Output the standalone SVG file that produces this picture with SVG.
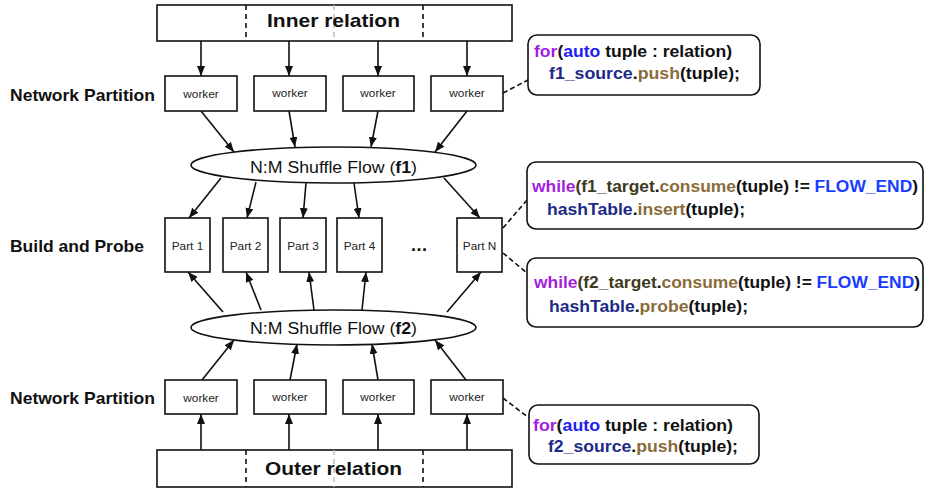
<svg xmlns="http://www.w3.org/2000/svg" width="928" height="491" viewBox="0 0 928 491">
  <style>
    text { font-family: "Liberation Sans", Arial, Helvetica, sans-serif; fill: #111; }
    .box { fill: #fff; stroke: #111; stroke-width: 1.6; }
    .code { fill: #fff; stroke: #111; stroke-width: 1.6; }
    .lbl { font-weight: bold; font-size: 16.5px; }
    .rel { font-weight: bold; font-size: 19px; }
    .small { font-size: 11.8px; fill: #222; }
    .flow { font-size: 16px; }
    .cd { font-weight: bold; font-size: 16px; }
    .kw { fill: #a21ee0; }
    .ty { fill: #2020f0; }
    .var { fill: #1d2a86; }
    .fn { fill: #8a6c3a; }
    .en { fill: #1a3cff; }
    .tg { fill: #3e3a22; }
    .edge { stroke: #111; stroke-width: 1.6; fill: none; }
    .dash { stroke: #111; stroke-width: 1.6; fill: none; stroke-dasharray: 5 3; }
    .div { stroke: #111; stroke-width: 1.6; stroke-dasharray: 5 4; }
    .divl { stroke: #bbb; stroke-width: 1.4; stroke-dasharray: 5 4; }
  </style>
  <defs>
    <marker id="ah" viewBox="0 0 10 8" refX="10" refY="4" markerWidth="10" markerHeight="8" markerUnits="userSpaceOnUse" orient="auto">
      <path d="M0,0 L10,4 L0,8 Z" fill="#111"/>
    </marker>
  </defs>

  <rect width="928" height="491" fill="#fff"/>

  <!-- row labels -->
  <text class="lbl" x="10" y="101" textLength="145" lengthAdjust="spacingAndGlyphs">Network Partition</text>
  <text class="lbl" x="10" y="252" textLength="134" lengthAdjust="spacingAndGlyphs">Build and Probe</text>
  <text class="lbl" x="10" y="404" textLength="145" lengthAdjust="spacingAndGlyphs">Network Partition</text>

  <!-- connectors -->
  <g id="connectors">
    <!-- inner relation to workers -->
    <line class="edge" x1="201" y1="41" x2="201" y2="76" marker-end="url(#ah)"/>
    <line class="edge" x1="289" y1="41" x2="289" y2="76" marker-end="url(#ah)"/>
    <line class="edge" x1="378" y1="41" x2="378" y2="76" marker-end="url(#ah)"/>
    <line class="edge" x1="467" y1="41" x2="467" y2="76" marker-end="url(#ah)"/>
    <!-- workers to flow f1 -->
    <line class="edge" x1="201" y1="111" x2="234" y2="152" marker-end="url(#ah)"/>
    <line class="edge" x1="289" y1="111" x2="295" y2="147" marker-end="url(#ah)"/>
    <line class="edge" x1="378" y1="111" x2="371" y2="147" marker-end="url(#ah)"/>
    <line class="edge" x1="467" y1="111" x2="435" y2="152" marker-end="url(#ah)"/>
    <!-- flow f1 to partitions -->
    <line class="edge" x1="221" y1="178" x2="189" y2="218" marker-end="url(#ah)"/>
    <line class="edge" x1="256" y1="182" x2="247" y2="218" marker-end="url(#ah)"/>
    <line class="edge" x1="306" y1="183" x2="303" y2="218" marker-end="url(#ah)"/>
    <line class="edge" x1="354" y1="183" x2="359" y2="218" marker-end="url(#ah)"/>
    <line class="edge" x1="444" y1="178" x2="480" y2="218" marker-end="url(#ah)"/>
    <!-- flow f2 to partitions -->
    <line class="edge" x1="223" y1="312" x2="188" y2="272" marker-end="url(#ah)"/>
    <line class="edge" x1="261" y1="310" x2="246" y2="272" marker-end="url(#ah)"/>
    <line class="edge" x1="314" y1="310" x2="309" y2="272" marker-end="url(#ah)"/>
    <line class="edge" x1="362" y1="310" x2="366" y2="272" marker-end="url(#ah)"/>
    <line class="edge" x1="447" y1="312" x2="481" y2="272" marker-end="url(#ah)"/>
    <!-- workers to flow f2 -->
    <line class="edge" x1="202" y1="380" x2="234" y2="340" marker-end="url(#ah)"/>
    <line class="edge" x1="290" y1="380" x2="297" y2="344" marker-end="url(#ah)"/>
    <line class="edge" x1="378" y1="380" x2="372" y2="344" marker-end="url(#ah)"/>
    <line class="edge" x1="466" y1="380" x2="435" y2="340" marker-end="url(#ah)"/>
    <!-- outer relation to workers -->
    <line class="edge" x1="201" y1="450" x2="201" y2="414" marker-end="url(#ah)"/>
    <line class="edge" x1="289" y1="450" x2="289" y2="414" marker-end="url(#ah)"/>
    <line class="edge" x1="378" y1="450" x2="378" y2="414" marker-end="url(#ah)"/>
    <line class="edge" x1="467" y1="450" x2="467" y2="414" marker-end="url(#ah)"/>
    <!-- code annotations -->
    <line class="dash" x1="503" y1="93" x2="528" y2="80"/>
    <line class="dash" x1="503" y1="228" x2="527" y2="200"/>
    <line class="dash" x1="503" y1="253" x2="527" y2="273"/>
    <line class="dash" x1="503" y1="398" x2="529" y2="418"/>
  </g>

  <!-- inner relation -->
  <g id="inner-relation">
    <rect class="box" x="157" y="5" width="355" height="36"/>
    <line class="div" x1="246" y1="5" x2="246" y2="41"/>
    <line class="divl" x1="334" y1="5" x2="334" y2="41"/>
    <line class="div" x1="423" y1="5" x2="423" y2="41"/>
    <text class="rel" x="267" y="27" textLength="133" lengthAdjust="spacingAndGlyphs">Inner relation</text>
  </g>

  <!-- top workers -->
  <g id="worker-t1"><rect class="box" x="165" y="76" width="72" height="35"/><text class="small" x="201" y="98" text-anchor="middle">worker</text></g>
  <g id="worker-t2"><rect class="box" x="254" y="76" width="72" height="35"/><text class="small" x="290" y="97" text-anchor="middle">worker</text></g>
  <g id="worker-t3"><rect class="box" x="343" y="76" width="71" height="35"/><text class="small" x="378" y="97" text-anchor="middle">worker</text></g>
  <g id="worker-t4"><rect class="box" x="431" y="76" width="72" height="35"/><text class="small" x="467" y="97" text-anchor="middle">worker</text></g>

  <!-- shuffle flow f1 -->
  <g id="flow-f1">
    <ellipse class="box" cx="333.5" cy="165" rx="142.5" ry="18"/>
    <text class="flow" x="250" y="173" textLength="167" lengthAdjust="spacingAndGlyphs">N:M Shuffle Flow (<tspan font-weight="bold">f1</tspan>)</text>
  </g>

  <!-- partitions -->
  <g id="part-1"><rect class="box" x="165" y="218" width="45" height="54"/><text class="small" x="187.5" y="250" text-anchor="middle">Part 1</text></g>
  <g id="part-2"><rect class="box" x="223" y="218" width="45" height="54"/><text class="small" x="245.5" y="250" text-anchor="middle">Part 2</text></g>
  <g id="part-3"><rect class="box" x="280" y="218" width="46" height="54"/><text class="small" x="303" y="250" text-anchor="middle">Part 3</text></g>
  <g id="part-4"><rect class="box" x="337" y="218" width="45" height="54"/><text class="small" x="359.5" y="250" text-anchor="middle">Part 4</text></g>
  <g id="ellipsis"><text x="411" y="251" font-weight="bold" font-size="18" textLength="16" lengthAdjust="spacing">...</text></g>
  <g id="part-n"><rect class="box" x="457" y="218" width="45" height="54"/><text class="small" x="479.5" y="250" text-anchor="middle">Part N</text></g>

  <!-- shuffle flow f2 -->
  <g id="flow-f2">
    <ellipse class="box" cx="333.5" cy="327.5" rx="142.5" ry="17.5"/>
    <text class="flow" x="250" y="334" textLength="167" lengthAdjust="spacingAndGlyphs">N:M Shuffle Flow (<tspan font-weight="bold">f2</tspan>)</text>
  </g>

  <!-- bottom workers -->
  <g id="worker-b1"><rect class="box" x="165" y="380" width="72" height="34"/><text class="small" x="201" y="402" text-anchor="middle">worker</text></g>
  <g id="worker-b2"><rect class="box" x="254" y="380" width="72" height="34"/><text class="small" x="290" y="401" text-anchor="middle">worker</text></g>
  <g id="worker-b3"><rect class="box" x="343" y="380" width="71" height="34"/><text class="small" x="378" y="401" text-anchor="middle">worker</text></g>
  <g id="worker-b4"><rect class="box" x="431" y="380" width="72" height="34"/><text class="small" x="467" y="401" text-anchor="middle">worker</text></g>

  <!-- outer relation -->
  <g id="outer-relation">
    <rect class="box" x="157" y="450" width="355" height="37"/>
    <line class="div" x1="246" y1="450" x2="246" y2="487"/>
    <line class="divl" x1="334" y1="450" x2="334" y2="487"/>
    <line class="div" x1="423" y1="450" x2="423" y2="487"/>
    <text class="rel" x="265" y="475" textLength="137" lengthAdjust="spacingAndGlyphs">Outer relation</text>
  </g>

  <!-- code: push inner tuples -->
  <g id="code-f1-source">
    <rect class="code" x="528" y="35" width="232" height="60" rx="9"/>
    <text class="cd" x="534" y="57" textLength="198" lengthAdjust="spacingAndGlyphs"><tspan class="kw">for</tspan>(<tspan class="ty">auto</tspan> tuple : relation)</text>
    <text class="cd" x="549" y="79" textLength="191" lengthAdjust="spacingAndGlyphs"><tspan class="var">f1_source</tspan>.<tspan class="fn">push</tspan>(tuple);</text>
  </g>

  <!-- code: build -->
  <g id="code-build">
    <rect class="code" x="527" y="162" width="396" height="67" rx="9"/>
    <text class="cd" x="532" y="192" textLength="386" lengthAdjust="spacingAndGlyphs"><tspan class="kw">while</tspan><tspan class="tg">(f1_target</tspan>.<tspan class="fn">consume</tspan>(tuple) != <tspan class="en">FLOW_END</tspan>)</text>
    <text class="cd" x="547" y="215" textLength="198" lengthAdjust="spacingAndGlyphs"><tspan class="var">hashTable</tspan>.<tspan class="fn">insert</tspan>(tuple);</text>
  </g>

  <!-- code: probe -->
  <g id="code-probe">
    <rect class="code" x="527" y="258" width="396" height="69" rx="9"/>
    <text class="cd" x="534" y="288" textLength="386" lengthAdjust="spacingAndGlyphs"><tspan class="kw">while</tspan><tspan class="tg">(f2_target</tspan>.<tspan class="fn">consume</tspan>(tuple) != <tspan class="en">FLOW_END</tspan>)</text>
    <text class="cd" x="549" y="312" textLength="199" lengthAdjust="spacingAndGlyphs"><tspan class="var">hashTable</tspan>.<tspan class="fn">probe</tspan>(tuple);</text>
  </g>

  <!-- code: push outer tuples -->
  <g id="code-f2-source">
    <rect class="code" x="529" y="405" width="230" height="59" rx="9"/>
    <text class="cd" x="533" y="431" textLength="200" lengthAdjust="spacingAndGlyphs"><tspan class="kw">for</tspan>(<tspan class="ty">auto</tspan> tuple : relation)</text>
    <text class="cd" x="548" y="452" textLength="190" lengthAdjust="spacingAndGlyphs"><tspan class="var">f2_source</tspan>.<tspan class="fn">push</tspan>(tuple);</text>
  </g>
</svg>
